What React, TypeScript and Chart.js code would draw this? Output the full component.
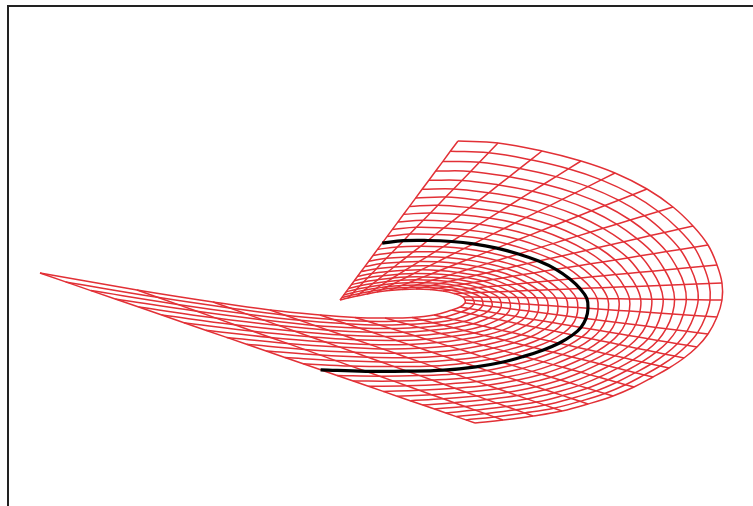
import React, { useEffect, useRef } from "react";
import { Chart, registerables } from "chart.js";
Chart.register(...registerables);

// Mesh vertices in picture units: one X and one Y list per curved ring,
// each list running along the 25 straight rays.
const ring00X = [340,348,357,367,377,389,402,416,430,443,454,463,465,465,460,452,434,412,385,355,320,270,213,137,40];
const ring00Y = [300,298,296,294,292,290.5,289.5,289,289.5,291,293.5,297,300,303,307,310,315,317.5,318,317.5,315,310,302,290,273];
const ring01X = [341.8,350.6,360.5,371.5,382.2,395.2,409,423.8,438.3,451.5,462.6,471.5,473.8,474,469,461.3,443.9,422.6,396.5,367.4,333.4,285.2,230,157.5,65.7];
const ring01Y = [297.6,295.4,293.2,291.2,289.4,288.1,287.4,287.2,288.2,290.2,293.2,297.1,300.6,304.1,308.5,311.9,317.2,320.1,321.2,321.3,319.5,315.3,308,297.3,281.9];
const ring02X = [343.8,353.4,364.4,376.2,387.9,401.9,416.6,431.8,446.7,460.3,471.4,480.6,482.6,482.7,478.2,470.6,453.7,433,407.7,379.5,346.3,299.8,246.9,177.6,90.9];
const ring02Y = [294.9,292.4,290.2,288.3,286.5,285.4,285,285.4,286.8,289.4,292.8,297.2,301.2,305.3,310.1,313.8,319.5,322.7,324.3,325,323.7,320.3,314.1,304.4,290.6];
const ring03X = [346,356.6,368.5,381.3,393.9,408.9,424.2,440.1,455.6,469.3,480.5,489.4,491.7,492,487.5,479.8,463.4,443.6,418.9,391.4,359.1,314.4,263.2,197,115.3];
const ring03Y = [291.9,289.2,287,285.1,283.6,282.7,282.7,283.5,285.4,288.5,292.5,297.3,301.8,306.4,311.6,315.8,321.6,325.3,327.4,328.6,328,325.4,319.9,311.3,299];
const ring04X = [348.6,359.9,372.9,386.9,400.3,416.1,432.4,448.7,464.5,478.3,489.6,498.5,501,501,496.7,489.1,473.2,453.7,429.8,403.2,372,328.4,279.2,216.1,138.7];
const ring04Y = [288.4,285.8,283.5,281.6,280.3,279.8,280.3,281.6,284,287.6,292.1,297.4,302.4,307.6,313.2,317.7,323.8,327.8,330.4,332.2,332.3,330.2,325.6,318.1,307];
const ring05X = [351.3,363.6,377.7,392.7,407,423.6,440.5,457.6,473.6,487.7,499,507.8,510.1,510.2,506,498.4,482.9,464.1,440.8,414.9,384.3,342.4,294.9,234.7,161.8];
const ring05Y = [284.7,281.9,279.8,278,277,276.9,277.8,279.6,282.5,286.8,291.7,297.5,303,308.8,314.8,319.6,326,330.4,333.5,335.7,336.4,335,331.2,324.7,315];
const ring06X = [354.3,367.7,382.9,398.9,414.1,431.6,449.2,466.7,483.1,497.3,508.7,517.1,519.4,519.4,515.2,507.7,492.5,474.2,451.5,426.2,396.6,356.1,310.3,253,184];
const ring06Y = [280.8,277.7,275.7,274.2,273.4,273.8,275.1,277.5,281,285.9,291.4,297.6,303.7,309.9,316.3,321.5,328.2,332.9,336.4,339.2,340.5,339.8,336.7,331.2,322.7];
const ring07X = [357.6,371.9,388.3,405.3,421.5,439.8,458.1,476.1,492.8,507.1,518.3,526.7,529,528.7,524.5,517,502.2,484.3,462.2,437.6,408.4,369.6,325.3,270.6,205.7];
const ring07Y = [276.3,273.4,271.5,270.2,269.7,270.5,272.4,275.3,279.4,284.9,291,297.7,304.3,311.1,317.9,323.4,330.4,335.4,339.4,342.6,344.4,344.4,342,337.5,330.2];
const ring08X = [361.1,376.4,394,412.2,429.4,448.6,467.6,486.1,502.6,517,528.2,536.3,538.6,537.9,533.7,526.2,511.8,494.4,472.9,448.9,420.2,382.4,339.7,287.4,226.6];
const ring08Y = [271.5,268.7,267,265.9,265.8,267,269.5,273.1,277.9,284,290.6,297.8,305,312.3,319.4,325.4,332.5,337.8,342.4,346.1,348.3,348.9,347.1,343.4,337.4];
const ring09X = [364.8,381.3,400.1,419.4,437.5,457.6,477.1,496.1,512.8,527.1,538.2,546.1,548.2,547.4,543.2,535.5,521.4,504.3,483.4,459.7,432,395.3,354.1,304.3,246.6];
const ring09Y = [266.6,263.6,262.2,261.4,261.8,263.5,266.6,270.8,276.2,283,290.2,298,305.6,313.5,321,327.3,334.7,340.3,345.3,349.4,352.2,353.3,352.3,349.4,344.3];
const ring10X = [368.8,386.4,406.6,426.9,446,466.9,487.1,506.3,523.1,537.5,548.3,556,558,556.9,552.4,544.8,530.8,514.2,493.6,470.6,443.3,407.8,367.9,320.4,266.2];
const ring10Y = [261.2,258.3,257.1,256.8,257.5,259.8,263.6,268.5,274.6,282,289.8,298.1,306.3,314.7,322.6,329.2,336.8,342.7,348.1,352.7,356,357.7,357.2,355.1,351];
const ring11X = [373,391.8,413.2,434.8,454.8,476.5,497.1,516.8,533.7,548,558.8,566.1,567.8,566.6,561.9,554.1,540.2,524.1,503.8,481.2,454.5,420.1,381.3,335.7,284.9];
const ring11Y = [255.5,252.7,251.9,251.8,253.1,256.1,260.5,266.1,272.9,281,289.4,298.2,306.9,316,324.2,331.1,339,345.2,350.9,356.4,359.7,361.9,362,360.6,357.5];
const ring12X = [377.5,397.5,420.5,443,463.9,486.5,507.7,527.6,544.8,558.9,569.2,576.4,577.9,576.3,571.4,563.4,549.6,533.7,513.7,491.7,465.3,432.1,394.4,351.1,303.2];
const ring12Y = [249.4,246.9,246.3,246.8,248.6,252.1,257.3,263.6,271.1,280,289,298.3,307.6,317.2,325.8,333,341.1,347.5,353.7,359.1,363.2,366.1,366.6,366.1,363.8];
const ring13X = [382.2,403.5,427.9,451.5,473.4,496.8,518.5,538.7,555.9,569.9,580,586.8,588,586,580.9,572.6,559,543.3,523.7,502,476,443.7,407.2,365.8,320.6];
const ring13Y = [243.1,240.7,240.5,241.5,243.8,248.1,254,261.1,269.3,279,288.6,298.4,308.3,318.4,327.4,335,343.2,349.9,356.4,362.2,366.8,370.1,371.2,371.3,369.8];
const ring14X = [387.2,409.8,435.4,460.5,483.4,507.4,529.6,550.1,567.1,580.8,591,597.2,598.1,595.7,590.4,581.9,568.4,553,533.7,512.1,486.7,455.1,419.7,379.7,337.1];
const ring14Y = [236.4,234.1,234.5,235.9,238.8,243.9,250.6,258.5,267.6,277.9,288.1,298.6,309,319.7,329,336.9,345.3,352.3,359.2,365.3,370.4,374,375.6,376.2,375.5];
const ring15X = [392.4,416.4,443.6,469.7,493.6,518.5,541.3,561.7,578.7,592.3,601.9,607.8,608.4,605.5,599.8,591.2,577.8,562.4,543.4,522.2,496.9,466.2,431.9,393.6,353.2];
const ring15Y = [229.4,227.3,228.1,230.2,233.7,239.5,247.1,255.9,265.7,276.8,287.7,298.7,309.7,320.9,330.6,338.8,347.4,354.6,361.9,368.4,373.7,377.9,380,381.1,381];
const ring16X = [397.8,423.3,451.9,479.4,504.1,529.9,553,573.6,590.7,603.8,613.2,618.7,618.7,615.4,609.5,600.5,587.2,571.8,553.1,532,507.1,477,443.7,406.7,368.4];
const ring16Y = [222.1,220.2,221.6,224.2,228.5,235.1,243.6,253.2,263.8,275.7,287.3,298.8,310.4,322.2,332.2,340.7,349.6,357,364.6,371.4,377.1,381.6,384.2,385.8,386.3];
const ring17X = [403.6,430.4,460.6,489.2,515,541.5,565.1,585.8,602.6,615.6,624.4,629.5,629.3,625.4,619,609.8,596.4,581.2,562.5,541.8,516.7,487.5,454.9,419.2,383.2];
const ring17Y = [214.3,212.9,214.8,218.1,223,230.5,239.8,250.4,261.9,274.6,286.8,298.9,311.1,323.5,333.8,342.6,351.6,359.3,367.2,374.3,380.3,385.2,388.2,390.2,391.4];
const ring18X = [409.5,437.9,469.7,499.5,526.2,553.3,577.3,598.3,615.1,627.7,636.2,640.7,639.9,635.6,628.7,619,605.6,590.3,571.8,551.1,526.4,497.8,466.1,431.6,397.1];
const ring18Y = [206.4,205.2,207.7,211.7,217.4,225.8,236.1,247.5,259.9,273.5,286.4,299.1,311.8,324.8,335.5,344.6,353.7,361.5,369.8,377.2,383.5,388.8,392.2,394.7,396.2];
const ring19X = [415.6,445.7,479.1,510.2,537.9,565.7,590.1,610.7,627.7,639.7,648,651.8,650.5,645.8,638.5,628.3,614.7,599.5,581,560.4,536,508,476.7,443.3,410.2];
const ring19Y = [198.1,197.1,200.3,205,211.6,221,232.2,244.7,257.9,272.3,285.9,299.2,312.5,326.1,337.1,346.5,355.8,363.8,372.3,380,386.7,392.3,395.9,398.8,400.7];
const ring20X = [422.1,453.6,488.7,521.1,549.8,578.4,603.1,623.8,640.4,652.1,659.8,663.2,661.3,656,648.2,637.6,623.9,608.7,590.2,569.7,545.1,517.6,486.9,454.3,422.8];
const ring20Y = [189.3,188.9,192.8,198.2,205.6,216,228.3,241.8,255.8,271.2,285.4,299.3,313.2,327.4,338.8,348.4,357.8,366.1,374.9,382.8,389.8,395.6,399.6,402.7,405];
const ring21X = [428.9,461.9,498.7,532.4,562.2,591.5,616.6,637,653.5,664.7,671.9,674.6,672.4,666.2,657.9,646.9,633,617.6,599.1,578.7,554.2,527,496.8,465,434.5];
const ring21Y = [180.3,180.4,184.9,191.2,199.4,210.8,224.2,238.7,253.7,270,284.9,299.5,314,328.7,340.4,350.3,359.9,368.3,377.3,385.6,392.8,398.9,403.1,406.5,409];
const ring22X = [435.7,470.6,509.1,544,574.8,604.9,630.2,650.6,666.6,677.5,684.2,686.3,683.2,676.7,667.6,656.2,642,626.7,608.1,587.5,562.8,536.3,506.4,475.2,445.9];
const ring22Y = [171,171.4,176.8,184,193.1,205.5,220,235.6,251.6,268.7,284.5,299.6,314.7,330,342,352.2,361.9,370.5,379.8,388.2,395.6,402.1,406.5,410.1,413];
const ring23X = [442.9,479.4,519.8,556,587.9,618.6,644.3,664.5,680.2,690.4,696.5,698.2,694.3,686.9,677.3,665.4,651.1,635.4,616.8,596.2,571.4,545.1,515.7,485.1,456.3];
const ring23Y = [161.4,162.2,168.4,176.6,186.6,200.2,215.7,232.5,249.5,267.5,284,299.7,315.5,331.3,343.7,354.2,364,372.7,382.2,390.9,398.5,405.1,409.8,413.6,416.6];
const ring24X = [450.3,488.6,530.7,568.4,601.2,632.6,658.4,678.6,694.1,703.6,709.1,710.1,705.7,697.6,687,674.7,660.1,644.3,625.5,604.7,580,553.8,524.4,494.2,465.9];
const ring24Y = [151.3,152.8,159.8,168.8,179.9,194.7,211.5,229.3,247.2,266.3,283.5,299.9,316.2,332.7,345.3,356.1,366,374.9,384.7,393.5,401.3,408.2,412.9,416.9,419.9];
const ring25X = [458,498,542,581,615,647,673,693,708,717,722,722,717,708,697,684,669,653,634,613,588,562,533,503,475];
const ring25Y = [141,143,151,161,173,189,207,226,245,265,283,300,317,334,347,358,368,377,387,396,404,411,416,420,423];

const ringsX = [ring00X,ring01X,ring02X,ring03X,ring04X,ring05X,ring06X,ring07X,ring08X,ring09X,ring10X,ring11X,ring12X,ring13X,ring14X,ring15X,ring16X,ring17X,ring18X,ring19X,ring20X,ring21X,ring22X,ring23X,ring24X,ring25X];
const ringsY = [ring00Y,ring01Y,ring02Y,ring03Y,ring04Y,ring05Y,ring06Y,ring07Y,ring08Y,ring09Y,ring10Y,ring11Y,ring12Y,ring13Y,ring14Y,ring15Y,ring16Y,ring17Y,ring18Y,ring19Y,ring20Y,ring21Y,ring22Y,ring23Y,ring24Y,ring25Y];
const HIGHLIGHTED_RING = 13;
const RED = "rgb(226,48,54)";

export default function App() {
  const ref = useRef<HTMLCanvasElement>(null);
  useEffect(() => {
    const datasets: any[] = [];
    ring00X.forEach((_, j) => {
      datasets.push({
        data: ringsX.map((xs, i) => ({ x: xs[j], y: ringsY[i][j] })),
        borderColor: RED, borderWidth: 1.5, pointRadius: 0, showLine: true, order: 1,
      });
    });
    ringsX.forEach((xs, i) => {
      const hi = i === HIGHLIGHTED_RING;
      datasets.push({
        data: xs.map((x, j) => ({ x, y: ringsY[i][j] })),
        borderColor: hi ? "#000" : RED, borderWidth: hi ? 3.2 : 1.5,
        tension: 0.4, pointRadius: 0, showLine: true, order: hi ? 0 : 1,
      });
    });
    const c = new Chart(ref.current!, {
      type: "scatter",
      data: { datasets },
      options: {
        animation: false, responsive: false,
        layout: { padding: 0 },
        plugins: { legend: { display: false }, tooltip: { enabled: false } },
        scales: { x: { display: false, min: 0, max: 753 }, y: { display: false, min: 0, max: 506, reverse: true } },
      },
    });
    return () => c.destroy();
  }, []);
  return (
    <div style={{ position: "fixed", inset: 0, overflow: "hidden", background: "#fff" }}>
      <canvas ref={ref} width={753} height={506} style={{ position: "absolute", left: 0, top: 0 }} />
      <div style={{ position: "absolute", left: 7, top: 5, width: 744, height: 600, border: "2px solid #222" }} />
    </div>
  );
}
